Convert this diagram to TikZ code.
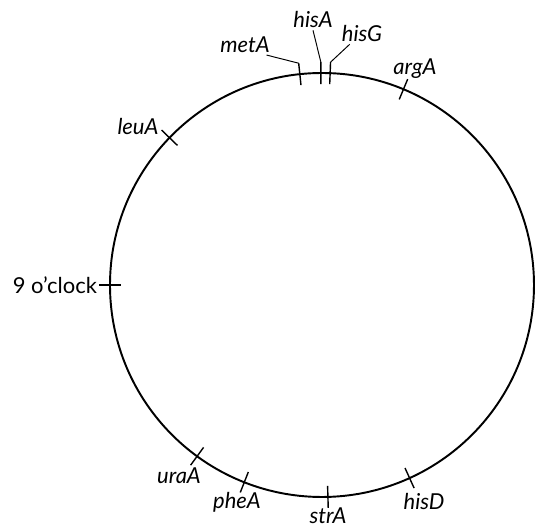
\documentclass[tikz,border=0pt]{standalone}
\usepackage{fontspec}
\setsansfont{Lato}
\begin{document}
\begin{tikzpicture}[x=0.02cm,y=0.02cm,
  gene/.style={font=\sffamily\itshape\fontsize{12.5}{14}\selectfont,inner sep=1pt},
  marker/.style={line width=0.8pt},
  leader/.style={line width=0.55pt}]
  \useasboundingbox (-322,-242) rectangle (213,285);
  \draw[line width=1.1pt] (0,0) circle (212);
  \foreach \ang/\nm in {96/metA,90.3/hisA,87.8/hisG,67.4/argA,136/leuA,180/clock,
                        233.9/uraA,248.5/pheA,271.6/strA,294.4/hisD} {
    \draw[marker] (\ang:201) -- (\ang:223);
    \coordinate (t-\nm) at (\ang:223);
  }
  \foreach \nm/\px/\py in {metA/-77/240,hisA/-9/265,hisG/40/251,argA/93/216,leuA/-184/159,
                           uraA/-143/-191,pheA/-85/-217,strA/6/-231,hisD/102/-217}
    \node[gene] (\nm) at (\px,\py) {\nm};
  \node[gene,font=\sffamily\fontsize{12.5}{14}\selectfont,anchor=east] (clock) at (t-clock) {9 o'clock};
  \draw[leader] (metA.-25) -- (t-metA);
  \draw[leader] (hisA.south) -- (t-hisA);
  \draw[leader] (hisG.-140) -- (t-hisG);
\end{tikzpicture}
\end{document}
